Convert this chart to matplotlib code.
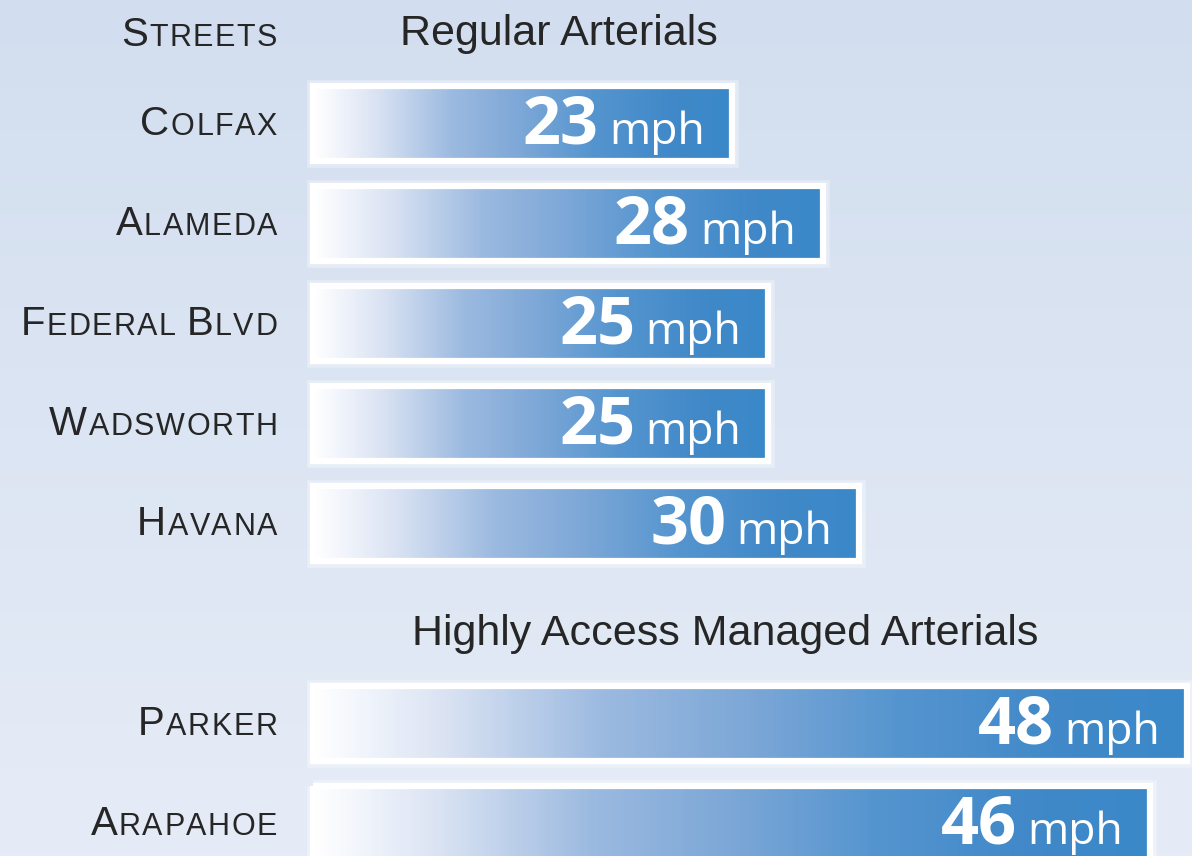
import numpy as np
import matplotlib
matplotlib.use('Agg')
import matplotlib.pyplot as plt
from matplotlib.colors import LinearSegmentedColormap
from matplotlib.patches import Rectangle

# data
streets = ['Colfax', 'Alameda', 'Federal Blvd', 'Wadsworth', 'Havana', 'Parker', 'Arapahoe']
speeds = [23, 28, 25, 25, 30, 48, 46]
group_of = [0, 0, 0, 0, 0, 1, 1]
groups = ['Regular Arterials', 'Highly Access Managed Arterials']
column_title = 'Streets'
unit = 'mph'

NARROW = ['Liberation Sans', 'DejaVu Sans']
VALUE_FONT = ['Open Sans', 'DejaVu Sans']
TXT = '#262626'
PX = 72 / 100.0  # points per pixel at dpi 100

bar_cmap = LinearSegmentedColormap.from_list('bar', [
    (0.0, '#ffffff'), (0.05, '#f3f6fc'), (0.15, '#dae3f3'), (0.33, '#9cbae0'),
    (0.5, '#7ca7d7'), (0.67, '#5595cf'), (0.85, '#4189c9'), (1.0, '#3a88c8')])
bg_cmap = LinearSegmentedColormap.from_list('bg', ['#d2deef', '#e6ecf7'])

fig = plt.figure(figsize=(11.92, 8.56), dpi=100)
bg = fig.add_axes([0, 0, 1, 1], zorder=-5)
bg.imshow(np.linspace(0, 1, 256).reshape(-1, 1), cmap=bg_cmap, aspect='auto',
          extent=(0, 1, 0, 1))
bg.axis('off')

ax = fig.add_axes([313 / 1192, 0, 879 / 1192, 1])
ax.set_facecolor('none')
ax.set_xlim(0, 48.3)
ax.set_ylim(7.33, -1.23)
ax.axis('off')

rows = [i + g for i, g in enumerate(group_of)]
h = 0.75
grad = np.linspace(0, 1, 256).reshape(1, -1)


def small_caps(text, y, dx_px, dy_px, big=29, small=22, track=1.5):
    # draw right to left, chaining each glyph on the left edge of the last one
    pieces = []
    for w, word in enumerate(text.split(' ')):
        if w > 0:
            pieces.append((' ', None))
        pieces.append((word[0].upper(), big))
        for ch in word[1:]:
            pieces.append((ch.upper(), small))
    prev = None
    gap = 0
    for ch, size in reversed(pieces):
        if size is None:
            gap = 9
            continue
        if prev is None:
            prev = ax.annotate(ch, xy=(0, y), xytext=(dx_px * PX, dy_px * PX),
                               textcoords='offset points', ha='right', va='baseline',
                               fontsize=size, family=NARROW, color=TXT,
                               annotation_clip=False)
        else:
            prev = ax.annotate(ch, xy=(0, y), xycoords=(prev, 'data'),
                               xytext=(-(track + gap) * PX, dy_px * PX),
                               textcoords='offset points', ha='right', va='baseline',
                               fontsize=size, family=NARROW, color=TXT,
                               annotation_clip=False)
        gap = 0


for name, v, r in zip(streets, speeds, rows):
    ax.add_patch(Rectangle((0, r - h / 2), v, h, facecolor='none', edgecolor='white',
                           lw=9, alpha=0.35, zorder=1, clip_on=False))
    ax.imshow(grad, cmap=bar_cmap, aspect='auto', extent=(0, v, r + h / 2, r - h / 2),
              zorder=2)
    ax.add_patch(Rectangle((0, r - h / 2), v, h, facecolor='none', edgecolor='white',
                           lw=4.5, zorder=3, clip_on=False))
    mph = ax.annotate(unit, xy=(v, r), xytext=(-27 * PX, -21 * PX),
                      textcoords='offset points', ha='right', va='baseline',
                      fontsize=32, family=VALUE_FONT, color='white', zorder=4)
    ax.annotate(str(v), xy=(0, r), xycoords=(mph, 'data'),
                xytext=(-10 * PX, -21 * PX), textcoords='offset points',
                ha='right', va='baseline', fontsize=48, fontweight='bold',
                family=VALUE_FONT, color='white', zorder=4)
    small_caps(name, r, -36, -12)

# group headers, left aligned a little past the bar start
header_dx = [87, 99]
for g, title in enumerate(groups):
    first = rows[group_of.index(g)]
    ax.annotate(title, xy=(0, first - 1), xytext=(header_dx[g] * PX, -22 * PX),
                textcoords='offset points', ha='left', va='baseline',
                fontsize=31, family=NARROW, color=TXT)

small_caps(column_title, rows[0] - 1, -36, -23)

fig.savefig('out.png', dpi=100)
